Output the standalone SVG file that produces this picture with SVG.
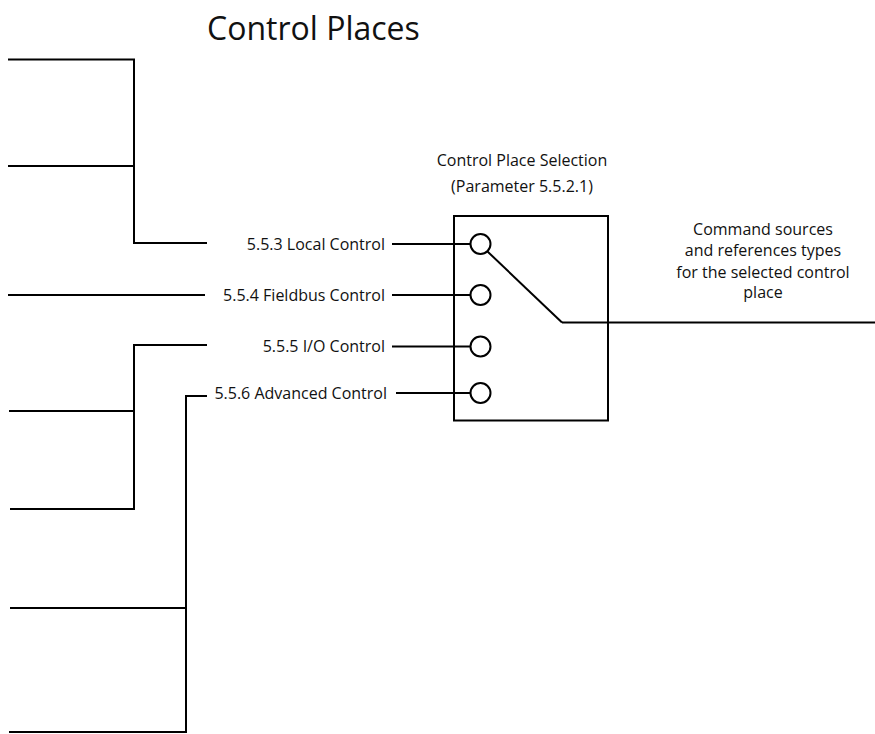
<svg xmlns="http://www.w3.org/2000/svg" width="875" height="734" viewBox="0 0 875 734">
<style>
.ln{stroke:#000;stroke-width:2;fill:none}
.pin{stroke:#000;stroke-width:2;fill:#fff}
text{font-family:"Open Sans","Noto Sans",sans-serif;fill:#111}
.lbl{font-size:16px;text-anchor:end}
.ctr{font-size:16px;text-anchor:middle}
</style>
<rect width="875" height="734" fill="#fff"/>
<text x="207" y="40" font-size="32" id="title">Control Places</text>
<g id="connectors">
<polyline class="ln" points="8,59.5 134,59.5 134,243 207,243"/>
<line class="ln" x1="8" y1="166" x2="134" y2="166"/>
<line class="ln" x1="8" y1="295" x2="205" y2="295"/>
<polyline class="ln" points="207,345 134,345 134,509 10,509"/>
<line class="ln" x1="9" y1="411" x2="134" y2="411"/>
<polyline class="ln" points="207,396 186,396 186,732 9,732"/>
<line class="ln" x1="10" y1="608" x2="186" y2="608"/>
<line class="ln" x1="392" y1="244" x2="470" y2="244"/>
<line class="ln" x1="392" y1="295" x2="470" y2="295"/>
<line class="ln" x1="392" y1="346.5" x2="470" y2="346.5"/>
<line class="ln" x1="396" y1="393" x2="470" y2="393"/>
<line class="ln" x1="562" y1="322.5" x2="875" y2="322.5"/>
</g>
<g id="local"><text class="lbl" x="385" y="249.5">5.5.3 Local Control</text></g>
<g id="fieldbus"><text class="lbl" x="385" y="300.5">5.5.4 Fieldbus Control</text></g>
<g id="io"><text class="lbl" x="385" y="352">5.5.5 I/O Control</text></g>
<g id="advanced"><text class="lbl" x="387" y="398.5">5.5.6 Advanced Control</text></g>
<g id="selector">
<text class="ctr" x="522" y="166">Control Place Selection</text>
<text class="ctr" x="522" y="192">(Parameter 5.5.2.1)</text>
<rect class="ln" x="454" y="216" width="154" height="204.5"/>
<circle class="pin" cx="480.5" cy="244" r="10"/>
<circle class="pin" cx="480.5" cy="295" r="10"/>
<circle class="pin" cx="480.5" cy="346.5" r="10"/>
<circle class="pin" cx="480.5" cy="393" r="10"/>
<line class="ln" x1="487.5" y1="251.5" x2="562" y2="322.5"/>
</g>
<g id="output">
<text class="ctr" x="763" y="235">Command sources</text>
<text class="ctr" x="763" y="256">and references types</text>
<text class="ctr" x="763" y="278">for the selected control</text>
<text class="ctr" x="763" y="298">place</text>
</g>
</svg>
